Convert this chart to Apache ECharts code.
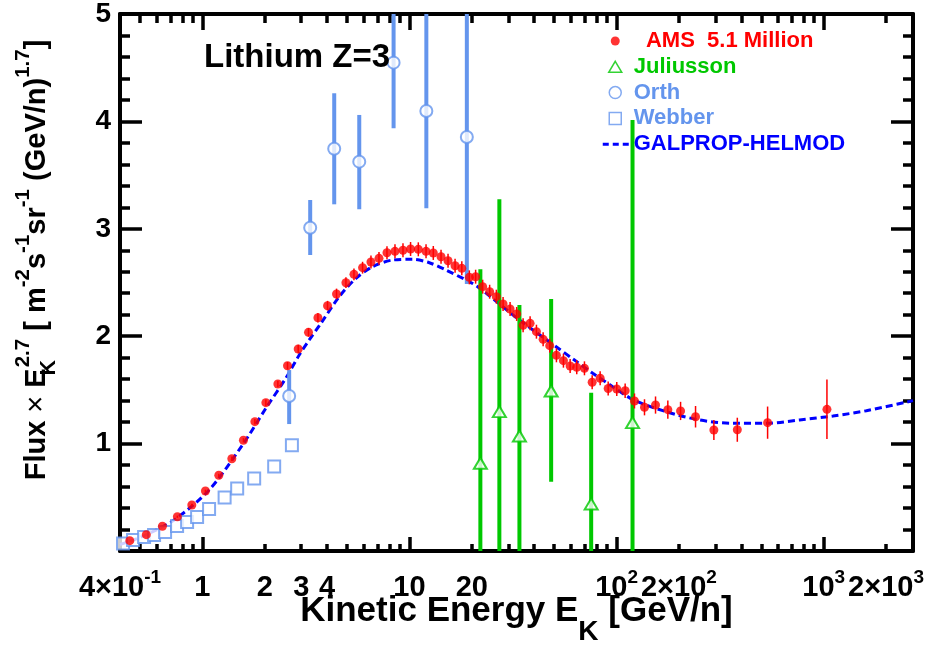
<!DOCTYPE html>
<html><head><meta charset="utf-8">
<script src="https://cdn.jsdelivr.net/npm/echarts@6/dist/echarts.min.js"></script>
<style>html,body{margin:0;padding:0;background:#fff}#c{width:930px;height:647px}</style>
</head><body><div id="c"></div>
<script>
// ---------- data ----------
const amsE = [0.446, 0.536, 0.641, 0.757, 0.889, 1.034, 1.200, 1.387, 1.578, 1.792,
  2.025, 2.314, 2.576, 2.901, 3.253, 3.612, 4.020, 4.443, 4.933, 5.393,
  5.934, 6.515, 7.123, 7.785, 8.510, 9.302, 10.12, 11.03, 12.02, 13.03,
  14.20, 15.35, 16.60, 17.89, 19.45, 20.86, 22.56, 24.38, 26.27, 28.31,
  30.60, 32.93, 35.37, 38.23, 41.02, 44.19, 47.55, 51.23, 55.38, 59.67,
  64.22, 69.97, 76.23, 83.30, 91.08, 100.2, 110.0, 122.0, 136.4, 154.2,
  176.8, 203.7, 240.6, 295.0, 382.8, 536.1, 1037];
const amsY = [0.096, 0.152, 0.230, 0.319, 0.428, 0.559, 0.705, 0.859, 1.031, 1.204,
  1.381, 1.555, 1.725, 1.881, 2.036, 2.172, 2.284, 2.393, 2.498, 2.576,
  2.638, 2.691, 2.725, 2.777, 2.790, 2.800, 2.812, 2.809, 2.790, 2.775,
  2.740, 2.703, 2.656, 2.632, 2.548, 2.554, 2.461, 2.414, 2.368, 2.300,
  2.253, 2.207, 2.101, 2.120, 2.042, 1.971, 1.912, 1.822, 1.772, 1.723,
  1.710, 1.701, 1.571, 1.608, 1.513, 1.508, 1.492, 1.397, 1.338, 1.359,
  1.316, 1.304, 1.250, 1.127, 1.129, 1.195, 1.319];
const amsErr = [0.01, 0.01, 0.01, 0.01, 0.012, 0.012, 0.015, 0.02, 0.02, 0.025,
  0.03, 0.03, 0.035, 0.04, 0.04, 0.045, 0.045, 0.05, 0.05, 0.055,
  0.055, 0.06, 0.06, 0.06, 0.065, 0.065, 0.065, 0.065, 0.065, 0.065,
  0.065, 0.065, 0.065, 0.065, 0.065, 0.065, 0.065, 0.065, 0.065, 0.065,
  0.065, 0.065, 0.065, 0.065, 0.065, 0.065, 0.065, 0.065, 0.065, 0.065,
  0.065, 0.065, 0.065, 0.065, 0.065, 0.065, 0.068, 0.07, 0.075, 0.08,
  0.085, 0.085, 0.10, 0.093, 0.112, 0.15, 0.277];

const julE  = [21.99, 27.16, 33.95, 48.31, 75.39, 119.4];
const julY  = [0.817, 1.297, 1.071, 1.490, 0.438, 1.195];
const julLo = [0, 0, 0, 0.645, 0, 0];
const julHi = [2.623, 3.275, 2.291, 2.346, 1.474, 4.013];

const orthE  = [2.624, 3.315, 4.330, 5.720, 8.379, 12.06, 18.92];
const orthY  = [1.443, 3.010, 3.746, 3.625, 4.547, 4.097, 3.855];
const orthLo = [1.182, 2.756, 3.228, 3.182, 3.936, 3.191, 2.486];
const orthHi = [1.685, 3.268, 4.262, 4.060, 5.5, 5.5, 5.5];

const webE = [0.4137, 0.4624, 0.5228, 0.5842, 0.6603, 0.7546, 0.8435, 0.9427, 1.077, 1.280, 1.472, 1.778, 2.221, 2.705];
const webY = [0.070, 0.102, 0.130, 0.149, 0.177, 0.233, 0.270, 0.317, 0.391, 0.498, 0.582, 0.675, 0.787, 0.984];

const galE = [0.4, 0.442, 0.5325, 0.73, 1.077, 1.561, 2.025, 2.53, 2.934, 3.28, 3.735, 4.579, 5.513, 6.632, 8.286,
  10.35, 12.47, 15.01, 18.76, 21.34, 33.95, 51.07, 62.59, 76.74, 95.85, 121, 173.7, 251.6, 364.5, 528.5, 765.6, 1109, 1608, 2700];
const galY = [0.06, 0.087, 0.149, 0.289, 0.568, 0.987, 1.329, 1.61, 1.825, 1.965, 2.12, 2.368, 2.539, 2.647, 2.709,
  2.716, 2.684, 2.616, 2.523, 2.461, 2.151, 1.902, 1.778, 1.655, 1.53, 1.406, 1.297, 1.22, 1.189, 1.189, 1.22, 1.257, 1.306, 1.40];

const xMajorTicks = [1, 10, 100, 1000];
const xMinorTicks = [0.5, 0.6, 0.7, 0.8, 0.9, 2, 3, 4, 5, 6, 7, 8, 9, 20, 30, 40, 50, 60, 70, 80, 90,
  200, 300, 400, 500, 600, 700, 800, 900, 2000];
const xLabelVals  = [0.4, 1, 2, 3, 4, 10, 20, 100, 200, 1000, 2000];
const xLabelTexts = ['4×10{sup|-1}', '1', '2', '3', '4', '10', '20', '10{sup|2}', '2×10{sup|2}', '10{sup|3}', '2×10{sup|3}'];
const yLabelVals = [1, 2, 3, 4, 5];

const legendNames = ['AMS  5.1 Million', 'Juliusson', 'Orth', 'Webber', 'GALPROP-HELMOD'];

// ---------- style ----------
const FONT = '"Liberation Sans", Arial, Helvetica, sans-serif';
const RED = '#ff0000', GREEN = '#00c800', LBLUE = '#6495ed', BLUE = '#0000ff';

// legend icon shapes (drawn in a 26x13 box; leading M points fix the box)
const ICON_BOX = 'M0,0 M26,13 ';
const iconDot = 'path://' + ICON_BOX + 'M8,6.5 a4.5,4.5 0 1,0 9,0 a4.5,4.5 0 1,0 -9,0 z';
const iconTri = 'path://' + ICON_BOX + 'M12.5,1 L19,12 L6,12 Z';
const iconCirc = 'path://' + ICON_BOX + 'M6.5,6.5 a6,6 0 1,0 12,0 a6,6 0 1,0 -12,0 z';
const iconRect = 'path://' + ICON_BOX + 'M6.5,0.5 h12 v12 h-12 z';
const iconDash = 'path://' + ICON_BOX + 'M0,5 h6 v3 h-6 z M10,5 h6 v3 h-6 z M20,5 h6 v3 h-6 z';

function errSeries(name, E, lo, hi, color, width) {
  return {
    type: 'custom', name: name, clip: true, silent: true, z: 2,
    data: E.map((e, i) => [e, lo[i], hi[i]]),
    encode: { x: 0, y: [1, 2] },
    renderItem: (params, api) => {
      const a = api.coord([api.value(0), api.value(1)]);
      const b = api.coord([api.value(0), api.value(2)]);
      return { type: 'line', shape: { x1: a[0], y1: a[1], x2: b[0], y2: b[1] },
        style: { stroke: color, lineWidth: width } };
    }
  };
}

const xBase = { type: 'log', logBase: 10, min: 0.4, max: 2700, splitLine: { show: false },
  minorTick: { show: false }, minorSplitLine: { show: false } };
const tickStyle = { color: '#000', width: 3.5 };
const lineStyleAxis = { color: '#000', width: 4 };

function xLabelFmt(v) {
  const i = xLabelVals.findIndex(t => Math.abs(Math.log10(t) - Math.log10(v)) < 1e-6);
  return i >= 0 ? xLabelTexts[i] : '';
}

const supX = { fontSize: 19, fontWeight: 'bold', fontFamily: FONT, color: '#000', verticalAlign: 'top' };

const yBase = { type: 'value', min: 0, max: 5, interval: 1, splitLine: { show: false },
  axisLine: { show: true, onZero: false, lineStyle: lineStyleAxis },
  axisTick: { show: true, inside: true, length: 22, lineStyle: tickStyle },
  minorTick: { show: true, splitNumber: 5, length: 10, lineStyle: tickStyle } };

const option = {
  animation: false,
  backgroundColor: '#fff',
  textStyle: { fontFamily: FONT },
  title: { text: 'Lithium Z=3', left: 204, top: 41, padding: 0,
    textStyle: { fontSize: 33, fontWeight: 'bold', fontFamily: FONT, color: '#000' } },
  legend: {
    orient: 'vertical', left: 602, top: 28.5, padding: 0, itemWidth: 26, itemHeight: 13, itemGap: 0.8,
    selectedMode: false,
    formatter: n => (n === legendNames[0] ? '  ' + n : n),
    textStyle: { fontSize: 22, fontWeight: 'bold', fontFamily: FONT, lineHeight: 25 },
    data: [
      { name: legendNames[0], icon: iconDot, itemStyle: { color: RED, borderWidth: 0 }, textStyle: { color: RED } },
      { name: legendNames[1], icon: iconTri, itemStyle: { color: '#fff', borderColor: GREEN, borderWidth: 1.5 }, textStyle: { color: GREEN } },
      { name: legendNames[2], icon: iconCirc, itemStyle: { color: '#fff', borderColor: LBLUE, borderWidth: 1.5 }, textStyle: { color: LBLUE } },
      { name: legendNames[3], icon: iconRect, itemStyle: { color: '#fff', borderColor: LBLUE, borderWidth: 1.5 }, textStyle: { color: LBLUE } },
      { name: legendNames[4], icon: iconDash, itemStyle: { color: BLUE, borderWidth: 0 }, textStyle: { color: BLUE } }
    ]
  },
  grid: { left: 120, right: 17, top: 14, bottom: 96, containLabel: false, outerBoundsMode: 'none' },
  xAxis: [
    Object.assign({}, xBase, {
      position: 'bottom',
      axisLine: { show: true, onZero: false, lineStyle: lineStyleAxis },
      axisTick: { show: true, inside: true, length: 14, customValues: xMajorTicks, lineStyle: tickStyle },
      axisLabel: { show: true, customValues: xLabelVals, formatter: xLabelFmt, margin: 17,
        fontSize: 29, fontWeight: 'bold', fontFamily: FONT, color: '#000', lineHeight: 40,
        rich: { sup: supX } },
      name: 'Kinetic Energy E{sub|K} [GeV/n]', nameLocation: 'middle', nameGap: 25.5, nameMoveOverlap: false,
      nameTextStyle: { fontSize: 35, fontWeight: 'bold', fontFamily: FONT, color: '#000', lineHeight: 70,
        rich: { sub: { fontSize: 28, fontWeight: 'bold', fontFamily: FONT, color: '#000', verticalAlign: 'bottom' } } }
    }),
    Object.assign({}, xBase, {
      position: 'bottom',
      axisLine: { show: false, onZero: false },
      axisTick: { show: true, inside: true, length: 7, customValues: xMinorTicks, lineStyle: tickStyle },
      axisLabel: { show: false }
    }),
    Object.assign({}, xBase, {
      position: 'top',
      axisLine: { show: true, onZero: false, lineStyle: lineStyleAxis },
      axisTick: { show: true, inside: true, length: 16, customValues: xMajorTicks, lineStyle: tickStyle },
      axisLabel: { show: false }
    }),
    Object.assign({}, xBase, {
      position: 'top',
      axisLine: { show: false, onZero: false },
      axisTick: { show: true, inside: true, length: 9, customValues: xMinorTicks, lineStyle: tickStyle },
      axisLabel: { show: false }
    })
  ],
  yAxis: [
    Object.assign({}, yBase, {
      position: 'left',
      axisLabel: { show: true, customValues: yLabelVals, margin: 9, fontSize: 28, fontWeight: 'bold',
        fontFamily: FONT, color: '#000' },
      name: 'Flux {tm|×} E{sub|K}{sup|2.7} [ m{sup|-2}s{sup|-1}sr{sup|-1} (GeV/n){sup|1.7}]',
      nameLocation: 'middle', nameRotate: 90, nameGap: 60, nameMoveOverlap: false,
      nameTextStyle: { fontSize: 29, fontWeight: 'bold', fontFamily: FONT, color: '#000', lineHeight: 47,
        padding: [0, 0, 0, 45],
        rich: {
          sup: { fontSize: 20.5, fontWeight: 'bold', fontFamily: FONT, color: '#000', verticalAlign: 'top' },
          sub: { fontSize: 21.5, fontWeight: 'bold', fontFamily: FONT, color: '#000', verticalAlign: 'bottom', width: 1 },
          tm: { fontSize: 29, fontWeight: 'normal', fontFamily: FONT, color: '#000' }
        } }
    }),
    Object.assign({}, yBase, { position: 'right', axisLabel: { show: false } })
  ],
  series: [
    { type: 'line', name: legendNames[4], data: galE.map((e, i) => [e, galY[i]]),
      symbol: 'none', showSymbol: false, smooth: 0.3, clip: true, z: 1,
      lineStyle: { color: BLUE, width: 3, type: [7, 4] }, itemStyle: { color: BLUE } },
    errSeries('jul-err', julE, julLo, julHi, GREEN, 4),
    { type: 'scatter', name: legendNames[1], data: julE.map((e, i) => [e, julY[i]]), z: 3,
      symbol: 'emptyTriangle', symbolSize: [13, 11], itemStyle: { color: GREEN, borderWidth: 1.5 } },
    errSeries('orth-err', orthE, orthLo, orthHi, LBLUE, 4),
    { type: 'scatter', name: legendNames[2], data: orthE.map((e, i) => [e, orthY[i]]), z: 3,
      symbol: 'emptyCircle', symbolSize: 12, itemStyle: { color: LBLUE, borderWidth: 1.5 } },
    { type: 'scatter', name: legendNames[3], data: webE.map((e, i) => [e, webY[i]]), z: 3,
      symbol: 'emptyRect', symbolSize: 12, itemStyle: { color: LBLUE, borderWidth: 1.5 } },
    errSeries('ams-err', amsE, amsE.map((e, i) => amsY[i] - amsErr[i]), amsE.map((e, i) => amsY[i] + amsErr[i]), RED, 1.5),
    { type: 'scatter', name: legendNames[0], data: amsE.map((e, i) => [e, amsY[i]]), z: 4,
      symbol: 'circle', symbolSize: 9, itemStyle: { color: RED } }
  ]
};

const chart = echarts.init(document.getElementById('c'), null, { renderer: 'canvas' });
chart.setOption(option);
</script></body></html>
